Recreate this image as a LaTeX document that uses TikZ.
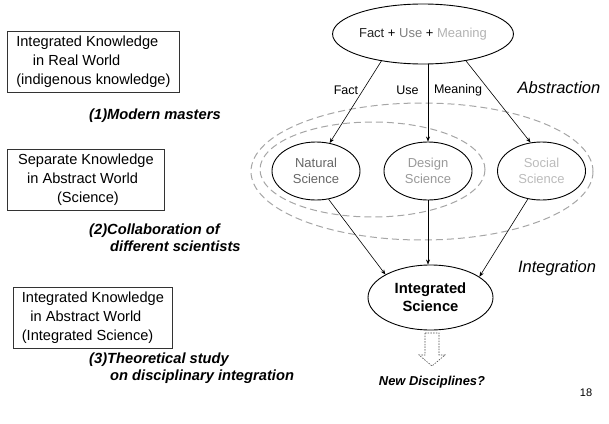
\documentclass[tikz,border=0pt]{standalone}
\usepackage{fontspec}
\setmainfont{Liberation Sans}
\usetikzlibrary{arrows.meta,shapes.geometric}
\newcommand{\myfs}[2]{\fontsize{#1}{#2}\selectfont}
\definecolor{natc}{HTML}{666666}
\definecolor{desc}{HTML}{999999}
\definecolor{socc}{HTML}{BBBBBB}
\definecolor{dashc}{HTML}{A6A6A6}
\begin{document}
\begin{tikzpicture}[x=1pt,y=-1pt,
  ell/.style={ellipse, draw, line width=0.9pt, inner sep=0pt, align=center},
  sci/.style={ell, minimum width=88pt, minimum height=58pt, font=\myfs{13}{15.7}},
  conn/.style={line width=0.6pt, -{Stealth[length=5pt,width=4pt]}},
  kbox/.style={draw=black!80, line width=0.8pt, anchor=north west, align=left, inner sep=0pt, minimum height=61pt, font=\myfs{14.6}{18.7}},
  bilab/.style={font=\myfs{14.7}{17}\bfseries\itshape, align=left, anchor=west, inner sep=0pt},
  edlab/.style={font=\myfs{12.5}{15}},
  biglab/.style={font=\myfs{16.5}{20}\itshape},
  grpell/.style={dashc, line width=1pt, dash pattern=on 7pt off 4pt}]
\useasboundingbox (0,0) rectangle (609,423);

% grouping ellipses
\draw[grpell] (422,171.5) ellipse [x radius=171, y radius=68.5];
\draw[grpell] (372.5,169.5) ellipse [x radius=112.5, y radius=47.5];

% left column
\node[kbox, minimum width=172pt] (k1) at (7,31)
  {Integrated Knowledge\\\hspace*{16.7pt}in Real World\\(indigenous knowledge)};
\node[kbox, minimum width=157pt] (k2) at (7,149)
  {Separate Knowledge\\\hspace*{9pt}in Abstract World\\\hspace*{39pt}(Science)};
\node[kbox, minimum width=159pt] (k3) at (13,287)
  {Integrated Knowledge\\\hspace*{8.6pt}in Abstract World\\(Integrated Science)};

\node[bilab] (m1) at (89,116) {(1)Modern masters};
\node[bilab] (m2) at (89,237.5) {(2)Collaboration of\\\hspace*{21pt}different scientists};
\node[bilab] (m3) at (89,368.5) {(3)Theoretical study\\\hspace*{21pt}on disciplinary integration};

% right diagram
\node[ell, minimum width=154pt, minimum height=60pt, font=\myfs{13}{16}] (top) at (423,34)
  {\textcolor{black!85}{Fact} + \textcolor{black!50}{Use} + \textcolor{black!30}{Meaning}};
\node[sci, text=natc] (nat) at (316,171) {Natural\\Science};
\node[sci, text=desc] (des) at (428,171) {Design\\Science};
\node[sci, text=socc] (soc) at (541.5,171) {Social\\Science};
\node[ell, minimum width=125pt, minimum height=65pt, font=\myfs{14.8}{18}\bfseries] (int) at (430.5,297.5) {Integrated\\Science};

\draw[conn] (top.213) -- (nat.64);
\draw[conn] (top.south -| des.north) -- (des.north);
\draw[conn] (top.328) -- (soc.111);
\draw[conn] (nat.294) -- (int.153);
\draw[conn] (des.south) -- (des.south |- int.north);
\draw[conn] (soc.244) -- (int.23);

\node[edlab] (lf) at (346,90) {Fact};
\node[edlab] (lu) at (407.5,90) {Use};
\node[edlab] (lm) at (458,90) {Meaning};
\node[biglab] (abs) at (559,88) {Abstraction};
\node[biglab] (itg) at (557,268) {Integration};

% hollow dashed arrow
\draw[black!70, line width=0.6pt, dash pattern=on 1.5pt off 1.2pt]
  (425,333) -- (439,333) -- (439,355) -- (445,355) -- (432,366) -- (419,355) -- (425,355) -- cycle;

\node[font=\myfs{12.9}{15}\bfseries\itshape] (nd) at (432,382) {New Disciplines?};
\node[font=\myfs{11}{13}] (pg) at (586,393) {18};
\end{tikzpicture}
\end{document}
